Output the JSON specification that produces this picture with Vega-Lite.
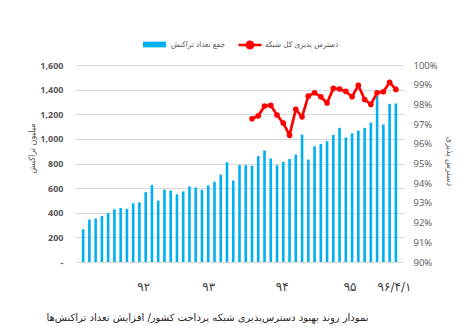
{
  "$schema": "https://vega.github.io/schema/vega-lite/v6.json",
  "width": 329,
  "height": 197,
  "autosize": {"type": "none"},
  "padding": {"left": 75, "top": 65, "right": 64, "bottom": 70},
  "background": "#ffffff",
  "title": {
    "text": "نمودار روند بهبود دسترس‌پذیری شبکه پرداخت کشور/ افزایش تعداد تراکنش‌ها",
    "orient": "bottom",
    "anchor": "middle",
    "dx": -32,
    "offset": 21,
    "font": "DejaVu Sans",
    "fontSize": 10,
    "fontWeight": "normal",
    "color": "#262626"
  },
  "config": {
    "view": {"stroke": null},
    "axis": {"labelFont": "Open Sans", "titleFont": "DejaVu Sans Condensed"}
  },
  "data": {
    "values": [
      {"idx": 1, "tx": 266, "avail": null},
      {"idx": 2, "tx": 344, "avail": null},
      {"idx": 3, "tx": 353, "avail": null},
      {"idx": 4, "tx": 374, "avail": null},
      {"idx": 5, "tx": 399, "avail": null},
      {"idx": 6, "tx": 428, "avail": null},
      {"idx": 7, "tx": 439, "avail": null},
      {"idx": 8, "tx": 431, "avail": null},
      {"idx": 9, "tx": 477, "avail": null},
      {"idx": 10, "tx": 485, "avail": null},
      {"idx": 11, "tx": 567, "avail": null},
      {"idx": 12, "tx": 626, "avail": null},
      {"idx": 13, "tx": 499, "avail": null},
      {"idx": 14, "tx": 588, "avail": null},
      {"idx": 15, "tx": 580, "avail": null},
      {"idx": 16, "tx": 550, "avail": null},
      {"idx": 17, "tx": 573, "avail": null},
      {"idx": 18, "tx": 614, "avail": null},
      {"idx": 19, "tx": 605, "avail": null},
      {"idx": 20, "tx": 587, "avail": null},
      {"idx": 21, "tx": 622, "avail": null},
      {"idx": 22, "tx": 652, "avail": null},
      {"idx": 23, "tx": 710, "avail": null},
      {"idx": 24, "tx": 810, "avail": null},
      {"idx": 25, "tx": 662, "avail": null},
      {"idx": 26, "tx": 787, "avail": null},
      {"idx": 27, "tx": 786, "avail": null},
      {"idx": 28, "tx": 781, "avail": 97.27},
      {"idx": 29, "tx": 860, "avail": 97.42},
      {"idx": 30, "tx": 906, "avail": 97.92},
      {"idx": 31, "tx": 841, "avail": 97.95},
      {"idx": 32, "tx": 786, "avail": 97.46},
      {"idx": 33, "tx": 814, "avail": 97.05},
      {"idx": 34, "tx": 837, "avail": 96.44},
      {"idx": 35, "tx": 872, "avail": 97.75},
      {"idx": 36, "tx": 1035, "avail": 97.37},
      {"idx": 37, "tx": 832, "avail": 98.42},
      {"idx": 38, "tx": 940, "avail": 98.59},
      {"idx": 39, "tx": 959, "avail": 98.39},
      {"idx": 40, "tx": 981, "avail": 98.07},
      {"idx": 41, "tx": 1033, "avail": 98.81},
      {"idx": 42, "tx": 1090, "avail": 98.78},
      {"idx": 43, "tx": 1011, "avail": 98.66},
      {"idx": 44, "tx": 1046, "avail": 98.39},
      {"idx": 45, "tx": 1068, "avail": 98.97},
      {"idx": 46, "tx": 1090, "avail": 98.25},
      {"idx": 47, "tx": 1133, "avail": 98.0},
      {"idx": 48, "tx": 1348, "avail": 98.59},
      {"idx": 49, "tx": 1117, "avail": 98.64},
      {"idx": 50, "tx": 1285, "avail": 99.12},
      {"idx": 51, "tx": 1288, "avail": 98.76}
    ]
  },
  "encoding": {
    "x": {
      "field": "idx",
      "type": "quantitative",
      "scale": {"domain": [0.5, 51.5], "nice": false, "zero": false},
      "axis": {
        "title": null,
        "values": [10.6, 21, 32.75, 43.6, 50.7],
        "labelExpr": "datum.value < 15 ? '۹۲' : datum.value < 25 ? '۹۳' : datum.value < 40 ? '۹۴' : datum.value < 47 ? '۹۵' : '۹۶/۴/۱'",
        "grid": false,
        "ticks": false,
        "domain": false,
        "labelPadding": 19,
        "labelFont": "DejaVu Sans",
        "labelFontSize": 12,
        "labelColor": "#404040",
        "labelFlush": false,
        "labelOverlap": false
      }
    }
  },
  "layer": [
    {
      "mark": {"type": "bar", "width": 2.6},
      "encoding": {
        "y": {
          "field": "tx",
          "type": "quantitative",
          "scale": {"domain": [0, 1600], "nice": false},
          "axis": {
            "title": "میلیون تراکنش",
            "titleFontSize": 9,
            "titleFontWeight": "normal",
            "titleColor": "#595959",
            "titleX": -39,
            "titleY": 83,
            "values": [0, 200, 400, 600, 800, 1000, 1200, 1400, 1600],
            "labelExpr": "datum.value == 0 ? '-' : format(datum.value, ',')",
            "labelFontSize": 9,
            "labelFontWeight": "bold",
            "labelColor": "#595959",
            "labelPadding": 12,
            "labelOverlap": false,
            "ticks": false,
            "domain": false,
            "grid": true,
            "gridColor": "#d9d9d9",
            "gridWidth": 1
          }
        },
        "fill": {
          "datum": "جمع تعداد تراکنش",
          "scale": {"range": ["#00b0f0"]},
          "legend": {
            "title": null,
            "orient": "none",
            "legendX": 67,
            "legendY": -33,
            "symbolType": "M-1,-0.25H1V0.25H-1Z",
            "symbolSize": 529,
            "labelFont": "DejaVu Sans Condensed",
            "labelFontSize": 8,
            "labelColor": "#595959",
            "labelOffset": 4
          }
        }
      }
    },
    {
      "transform": [{"filter": "isValid(datum.avail)"}],
      "layer": [
        {
          "mark": {"type": "line", "strokeWidth": 2.7},
          "encoding": {
            "y": {
              "field": "avail",
              "type": "quantitative",
              "scale": {"domain": [90, 100], "nice": false, "zero": false},
              "axis": {
                "orient": "right",
                "title": "دسترس پذیری",
                "titleFontSize": 9,
                "titleFontWeight": "normal",
                "titleColor": "#595959",
                "titleX": 40,
                "titleY": 96,
                "values": [90, 91, 92, 93, 94, 95, 96, 97, 98, 99, 100],
                "labelExpr": "datum.value + '%'",
                "labelFontSize": 9.5,
                "labelColor": "#595959",
                "labelPadding": 9,
                "labelOverlap": false,
                "ticks": false,
                "domain": false,
                "grid": false
              }
            },
            "stroke": {
              "datum": "دسترس پذیری کل شبکه",
              "scale": {"range": ["#ff0000"]},
              "legend": {
                "title": null,
                "orient": "none",
                "legendX": 162,
                "legendY": -33,
                "symbolType": "M-1,0L1,0M0.28,0A0.28,0.28,0,1,1,-0.28,0A0.28,0.28,0,1,1,0.28,0",
                "symbolSize": 529,
                "symbolStrokeWidth": 2.5,
                "symbolFillColor": "#ff0000",
                "labelFont": "DejaVu Sans Condensed",
                "labelFontSize": 8,
                "labelColor": "#595959",
                "labelOffset": 2
              }
            }
          }
        },
        {
          "mark": {"type": "point", "filled": true, "color": "#ff0000", "size": 32, "opacity": 1},
          "encoding": {
            "y": {
              "field": "avail",
              "type": "quantitative",
              "scale": {"domain": [90, 100], "nice": false, "zero": false},
              "axis": {
                "orient": "right",
                "title": "دسترس پذیری",
                "titleFontSize": 9,
                "titleFontWeight": "normal",
                "titleColor": "#595959",
                "titleX": 40,
                "titleY": 96,
                "values": [90, 91, 92, 93, 94, 95, 96, 97, 98, 99, 100],
                "labelExpr": "datum.value + '%'",
                "labelFontSize": 9.5,
                "labelColor": "#595959",
                "labelPadding": 9,
                "labelOverlap": false,
                "ticks": false,
                "domain": false,
                "grid": false
              }
            }
          }
        }
      ]
    }
  ],
  "resolve": {"scale": {"y": "independent"}}
}
